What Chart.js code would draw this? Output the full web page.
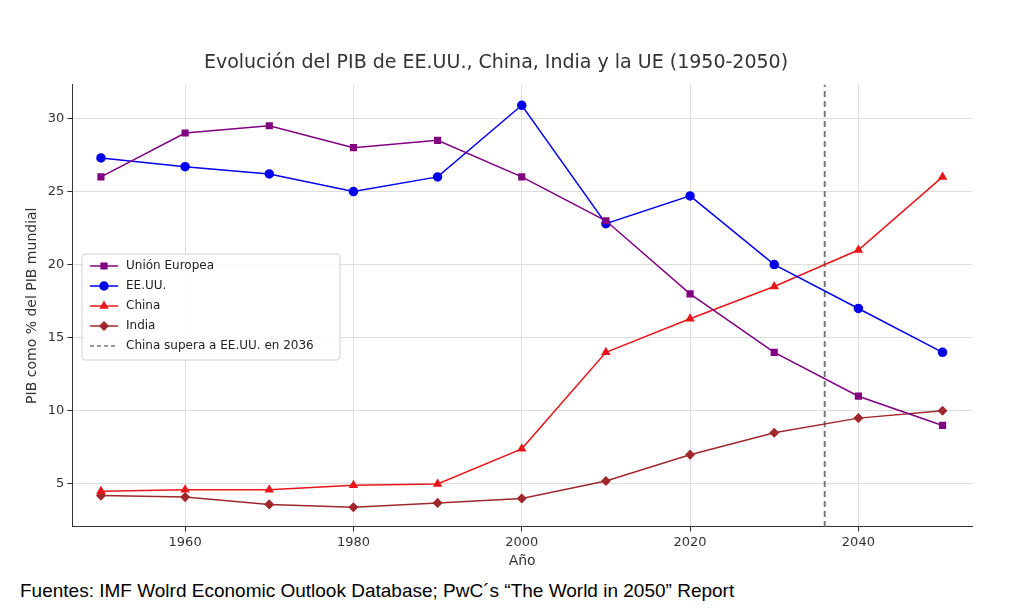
<!DOCTYPE html>
<html lang="es">
<head>
<meta charset="UTF-8">
<script src="https://cdn.jsdelivr.net/npm/chart.js"></script>
<style>
  body { margin: 0; background: #fff; width: 1024px; height: 616px; overflow: hidden; }
  #wrap { position: absolute; left: 0; top: 0; width: 1024px; height: 576px; }
  #fuente { position: absolute; left: 20px; top: 580px; font-family: "Liberation Sans", Arial, sans-serif; font-size: 19px; color: #000; }
</style>
</head>
<body>
<div id="wrap"><canvas id="pib" width="1024" height="576"></canvas></div>
<div id="fuente">Fuentes: IMF Wolrd Economic Outlook Database; PwC´s “The World in 2050” Report</div>
<script>
// Datos
var anios = [1950, 1960, 1970, 1980, 1990, 2000, 2010, 2020, 2030, 2040, 2050];
var ue    = [26, 29, 29.5, 28, 28.5, 26, 23, 18, 14, 11, 9];
var eeuu  = [27.3, 26.7, 26.2, 25, 26, 30.9, 22.8, 24.7, 20, 17, 14];
var china = [4.5, 4.6, 4.6, 4.9, 5.0, 7.4, 14, 16.3, 18.5, 21, 26];
var india = [4.2, 4.1, 3.6, 3.4, 3.7, 4.0, 5.2, 7.0, 8.5, 9.5, 10];
var anioCruce = 2036;

function puntos(vals) {
    return anios.map((a, i) => ({x: a, y: vals[i]}));
}

var series = [
    {label: 'Unión Europea', data: puntos(ue), color: '#800080', estilo: 'rect', r: 4},
    {label: 'EE.UU.', data: puntos(eeuu), color: '#0000ee', estilo: 'circle', r: 4},
    {label: 'China', data: puntos(china), color: '#e8161b', estilo: 'triangle', r: 4},
    {label: 'India', data: puntos(india), color: '#a0282c', estilo: 'rectRot', r: 4}
];

var fuente = "'DejaVu Sans', sans-serif";

// Leyenda dibujada dentro del área del gráfico
var leyendaPlugin = {
    id: 'leyenda',
    afterDraw(chart) {
        var ctx = chart.ctx;
        var x0 = 82, y0 = 254, w = 258, h = 106;
        ctx.save();
        ctx.fillStyle = 'rgba(255,255,255,0.85)';
        ctx.strokeStyle = '#d0d0d0';
        ctx.lineWidth = 1;
        ctx.beginPath();
        ctx.roundRect(x0, y0, w, h, 3);
        ctx.fill(); ctx.stroke();
        ctx.font = '12px ' + fuente;
        ctx.textBaseline = 'middle';
        var items = series.concat([{label: 'China supera a EE.UU. en ' + anioCruce, color: '#777', dash: true}]);
        items.forEach((it, i) => {
            var y = y0 + 12 + i * 20;
            ctx.strokeStyle = it.color;
            ctx.lineWidth = 1.5;
            ctx.setLineDash(it.dash ? [4, 3] : []);
            ctx.beginPath(); ctx.moveTo(x0 + 8, y); ctx.lineTo(x0 + 36, y); ctx.stroke();
            ctx.setLineDash([]);
            if (!it.dash) {
                ctx.fillStyle = it.color;
                Chart.helpers.drawPoint(ctx, {pointStyle: it.estilo, radius: it.r, borderWidth: 1}, x0 + 22, y);
                ctx.fill();
            }
            ctx.fillStyle = '#222';
            ctx.fillText(it.label, x0 + 44, y);
        });
        ctx.restore();
    }
};

var ctx = document.getElementById('pib').getContext('2d');
new Chart(ctx, {
    type: 'line',
    data: {
        datasets: series.map(s => ({
            label: s.label,
            data: s.data,
            borderColor: s.color,
            backgroundColor: s.color,
            pointStyle: s.estilo,
            pointRadius: s.r,
            borderWidth: 1.5,
            fill: false,
            tension: 0
        })).concat([{
            label: 'China supera a EE.UU.',
            data: [{x: anioCruce, y: 0}, {x: anioCruce, y: 40}],
            borderColor: '#777',
            borderDash: [6, 4],
            borderWidth: 2,
            pointRadius: 0
        }])
    },
    options: {
        responsive: false,
        animation: false,
        layout: {padding: {left: 20, right: 52, top: 52, bottom: 6}},
        plugins: {
            legend: {display: false},
            tooltip: {enabled: false},
            title: {
                display: true,
                text: 'Evolución del PIB de EE.UU., China, India y la UE (1950-2050)',
                font: {family: fuente, size: 19, weight: 'normal'},
                color: '#333',
                padding: {top: 0, bottom: 10}
            }
        },
        scales: {
            x: {
                type: 'linear',
                min: 1946.6, max: 2053.5,
                afterBuildTicks(ax) { ax.ticks = [1960, 1980, 2000, 2020, 2040].map(v => ({value: v})); },
                ticks: {font: {family: fuente, size: 13}, color: '#333', callback: v => String(v)},
                grid: {color: '#dddddd', tickColor: '#333', tickLength: 5},
                border: {color: '#333'},
                title: {display: true, text: 'Año', font: {family: fuente, size: 14}, color: '#333', padding: 0}
            },
            y: {
                min: 2.08, max: 32.3,
                afterBuildTicks(ax) { ax.ticks = [5, 10, 15, 20, 25, 30].map(v => ({value: v})); },
                ticks: {font: {family: fuente, size: 13}, color: '#333'},
                grid: {color: '#dddddd', tickColor: '#333', tickLength: 5},
                border: {color: '#333'},
                title: {display: true, text: 'PIB como % del PIB mundial', font: {family: fuente, size: 14}, color: '#333'}
            }
        }
    },
    plugins: [leyendaPlugin]
});
</script>
</body>
</html>
